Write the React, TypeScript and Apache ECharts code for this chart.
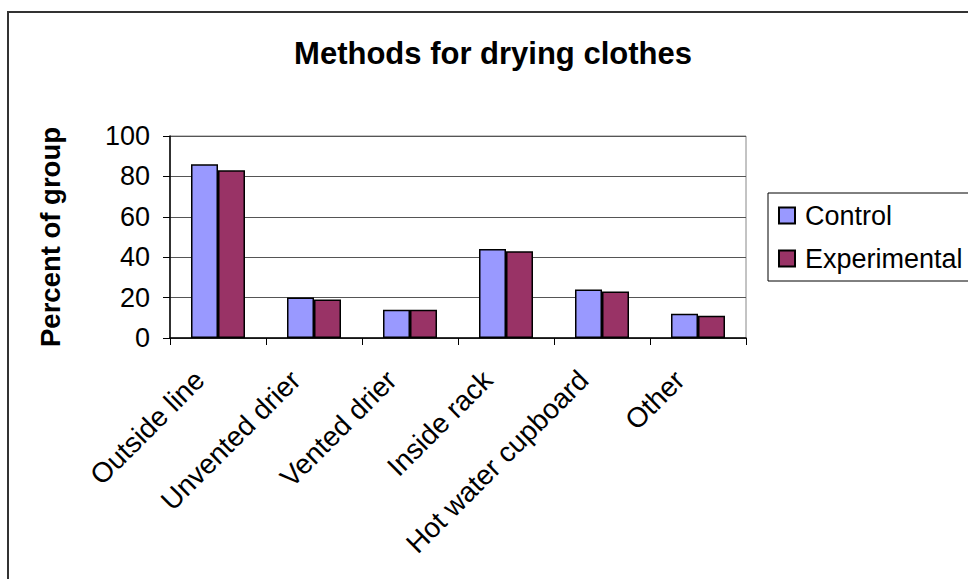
import React, { useEffect, useRef } from "react";
import * as echarts from "echarts";

const categories = ["Outside line", "Unvented drier", "Vented drier", "Inside rack", "Hot water cupboard", "Other"];
const controlValues = [86, 20, 14, 44, 24, 12];
const experimentalValues = [83, 19, 14, 43, 23, 11];
const yTicks = { min: 0, max: 100, interval: 20 };

const FONT = "Arial, 'Liberation Sans', sans-serif";

export default function App() {
  const ref = useRef<HTMLDivElement>(null);
  useEffect(() => {
    if (!ref.current) return;
    const chart = echarts.init(ref.current, undefined, { renderer: "svg" });
    chart.setOption({
      animation: false,
      backgroundColor: "#ffffff",
      textStyle: { fontFamily: FONT },
      graphic: [
        {
          type: "rect",
          shape: { x: 8, y: 12, width: 1000, height: 700 },
          style: { fill: "none", stroke: "#333333", lineWidth: 2 },
          z: 0,
        },
        {
          type: "rect",
          shape: { x: 768, y: 193, width: 260, height: 88 },
          style: { fill: "none", stroke: "#000000", lineWidth: 1 },
          z: 0,
        },
        {
          type: "text",
          x: 493,
          y: 53,
          style: {
            text: "Methods for drying clothes",
            font: "bold 31px " + FONT,
            fill: "#000",
            textAlign: "center",
            textVerticalAlign: "middle",
          },
        },
      ],
      legend: {
        orient: "vertical",
        left: 778,
        top: 202,
        padding: 0,
        itemGap: 16,
        itemWidth: 16,
        itemHeight: 16,
        icon: "rect",
        textStyle: { fontSize: 27, color: "#000", fontFamily: FONT, padding: [0, 0, 0, 5] },
        data: ["Control", "Experimental"],
      },
      grid: {
        left: 170,
        right: 222,
        top: 136,
        bottom: 241,
        show: true,
        borderColor: "#888888",
        borderWidth: 1,
      },
      xAxis: {
        type: "category",
        data: categories,
        axisLine: { lineStyle: { color: "#000", width: 1.5 } },
        axisTick: { show: true, length: 7, lineStyle: { color: "#000" } },
        axisLabel: {
          interval: 0,
          rotate: 45,
          fontSize: 28,
          color: "#000",
          margin: 19,
          padding: [0, 26, 0, 0],
          fontFamily: FONT,
        },
      },
      yAxis: {
        type: "value",
        min: yTicks.min,
        max: yTicks.max,
        interval: yTicks.interval,
        name: "Percent of group",
        nameLocation: "middle",
        nameRotate: 90,
        nameGap: 106,
        nameTextStyle: { fontSize: 27.5, fontWeight: "bold", color: "#000", fontFamily: FONT },
        axisLine: { show: true, lineStyle: { color: "#000", width: 1.5 } },
        axisTick: { show: true, length: 7, lineStyle: { color: "#000" } },
        axisLabel: { fontSize: 27, color: "#000", margin: 20, fontFamily: FONT },
        splitLine: { show: true, lineStyle: { color: "#555555", width: 1 } },
      },
      series: [
        {
          name: "Control",
          type: "bar",
          data: controlValues,
          barWidth: 27,
          barGap: "0%",
          itemStyle: { color: "#9999FF", borderColor: "#000", borderWidth: 1.5 },
        },
        {
          name: "Experimental",
          type: "bar",
          data: experimentalValues,
          barWidth: 27,
          barGap: "0%",
          itemStyle: { color: "#993366", borderColor: "#000", borderWidth: 1.5 },
        },
      ],
    });
    return () => chart.dispose();
  }, []);
  return <div ref={ref} style={{ width: 968, height: 579, position: "absolute", left: 0, top: 0 }} />;
}
